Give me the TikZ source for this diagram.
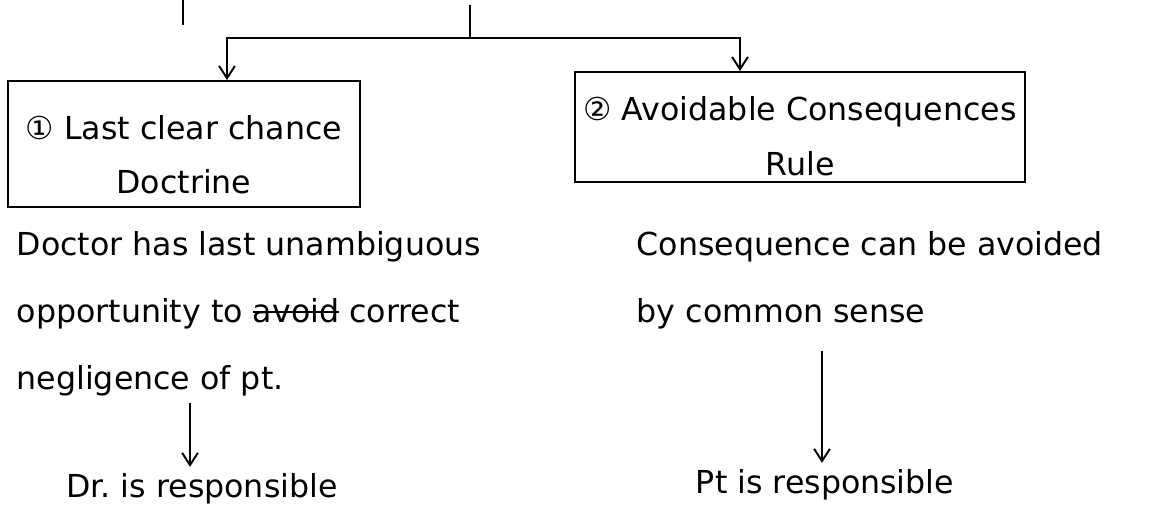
\documentclass[tikz,border=0pt]{standalone}
\usepackage{fontspec}
\setmainfont{DejaVu Sans}
\usetikzlibrary{arrows.meta, positioning}
\newcommand{\crossout}[1]{\setbox0\hbox{#1}\rlap{\rule[0.3em]{\wd0}{1.2pt}}\box0\relax}

\begin{document}
\begin{tikzpicture}[x=0.02cm, y=-0.02cm, >={Straight Barb[length=7pt, width=9pt]}, line width=1.1pt,
		rulebox/.style={draw, align=center, inner ysep=0pt, font=\fontsize{18}{31}\selectfont},
		note/.style={align=left, font=\fontsize{18}{38}\selectfont},
		verdict/.style={font=\fontsize{18}{22}\selectfont}]
		
			\useasboundingbox (0,0) rectangle (1150,516);
			
			\coordinate (stubA) at (183,0);
			\coordinate (stubB) at (183,25);
			\coordinate (trunk) at (470,5);
			\coordinate (fork) at (470,38);
			\coordinate (forkL) at (227,38);
			\coordinate (forkR) at (740,38);
			\coordinate (dropL) at (190,0);
			\coordinate (dropR) at (822,0);
			
			\node (clear) [rulebox, minimum width=7.04cm, minimum height=2.52cm] at (184,144) {\rule{0pt}{26pt}① Last clear chance\\Doctrine};
			\node (avoid) [rulebox, minimum width=9cm, minimum height=2.2cm] at (800,127) {\rule{0pt}{24pt}② Avoidable Consequences\\Rule};
			
			\node (reasonL) [note, anchor=north west] at (10,225) {Doctor has last unambiguous\\opportunity to \crossout{avoid} correct\\negligence of pt.};
			\node (reasonR) [note, anchor=north west] at (630,225) {Consequence can be avoided\\by common sense};
			
			\node (resultL) [verdict] at (202,489) {Dr.\ is responsible};
			\node (resultR) [verdict] at (825,485) {Pt is responsible};
			
				\draw (stubA) -- (stubB);
				\draw (trunk) -- (fork);
				\draw[->] (fork) -| (forkL |- clear.north);
				\draw[->] (fork) -| (forkR |- avoid.north);
				
				\path[->]
					(reasonL.south -| dropL) edge (dropL |- resultL.north)
					(reasonR.south -| dropR) edge [shorten <=0.3cm] (dropR |- resultR.north);
		
		\end{tikzpicture}
\end{document}
